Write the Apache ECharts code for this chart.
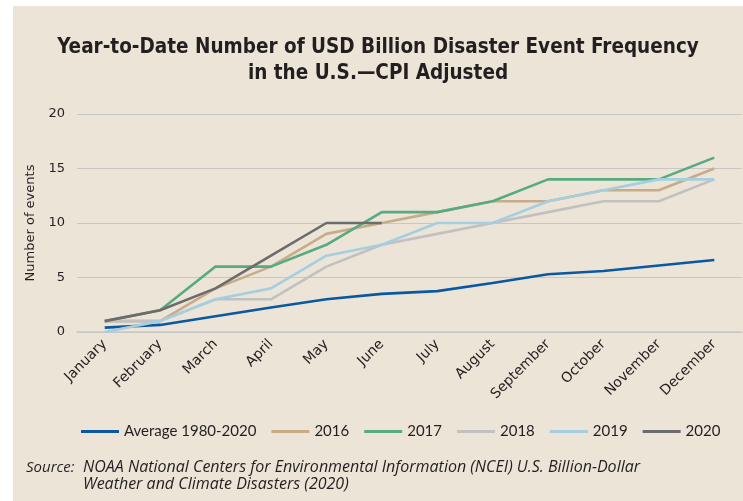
<!DOCTYPE html>
<html>
<head>
<meta charset="utf-8">
<script src="https://cdn.jsdelivr.net/npm/echarts@6/dist/echarts.min.js"></script>
<style>
   html, body { margin: 0; padding: 0; background: #ffffff; }
   #chart { position: absolute; left: 13px; top: 6px; width: 730px; height: 495px; background: #ebe4d7; }
</style>
</head>
<body>
<div id="chart"></div>
<script>
   // 月份
   var months = ['January', 'February', 'March', 'April', 'May', 'June', 'July', 'August', 'September', 'October', 'November', 'December'];
   // 各年累计次数
   var avg1980 = [0.4, 0.65, 1.45, 2.25, 3.0, 3.5, 3.75, 4.5, 5.3, 5.6, 6.1, 6.6];
   var y2016 = [1, 1, 4, 6, 9, 10, 11, 12, 12, 13, 13, 15];
   var y2017 = [1, 2, 6, 6, 8, 11, 11, 12, 14, 14, 14, 16];
   var y2018 = [1, 1, 3, 3, 6, 8, 9, 10, 11, 12, 12, 14];
   var y2019 = [0, 1, 3, 4, 7, 8, 10, 10, 12, 13, 14, 14];
   var y2020 = [1, 2, 4, 7, 10, 10];
   var yTicks = [0, 5, 10, 15, 20];

   var myChart = echarts.init(document.getElementById('chart'));

   function line(name, data, color){
      return {
         name: name,
         type: 'line',
         data: data,
         symbol: 'none',
         lineStyle: {color: color, width: 2.6},
         itemStyle: {color: color}
      };
   }

   var option = {
      animation: false,
      title: [
         {
            text: 'Year-to-Date Number of USD Billion Disaster Event Frequency\nin the U.S.\u2014CPI Adjusted',
            left: 'center',
            top: 24,
            textStyle: {
               fontFamily: 'DejaVu Sans Condensed',
               fontWeight: 'bold',
               fontSize: 20.5,
               lineHeight: 26,
               color: '#231f20'
            }
         },
         {
            text: 'Source:',
            left: 8,
            top: 449,
            textStyle: {fontFamily: 'Open Sans', fontStyle: 'italic', fontWeight: 'normal', fontSize: 15, color: '#231f20'}
         },
         {
            text: 'NOAA National Centers for Environmental Information (NCEI) U.S. Billion-Dollar\nWeather and Climate Disasters (2020)',
            left: 65,
            top: 448,
            textStyle: {fontFamily: 'Open Sans', fontStyle: 'italic', fontWeight: 'normal', fontSize: 16, lineHeight: 17, color: '#231f20'}
         }
      ],
      legend: {
         bottom: 57,
         left: 63,
         itemWidth: 38,
         itemHeight: 3,
         itemGap: 15,
         icon: 'rect',
         textStyle: {fontFamily: 'Lato', fontSize: 15, color: '#231f20'},
         data: ['Average 1980-2020', '2016', '2017', '2018', '2019', '2020']
      },
      grid: {
         left: 64,
         right: 1,
         top: 108,
         height: 218
      },
      xAxis: {
         type: 'category',
         boundaryGap: true,
         data: months,
         axisLine: {show: true, lineStyle: {color: '#c9c7c6', width: 1.5}},
         axisTick: {show: false},
         axisLabel: {
            rotate: 45,
            interval: 0,
            margin: 10,
            fontFamily: 'DejaVu Sans',
            fontSize: 14,
            color: '#231f20'
         }
      },
      yAxis: {
         type: 'value',
         min: yTicks[0],
         max: yTicks[yTicks.length - 1],
         interval: 5,
         name: 'Number of events',
         nameLocation: 'middle',
         nameGap: 36,
         nameTextStyle: {fontFamily: 'DejaVu Sans', fontSize: 13, color: '#231f20'},
         axisLine: {show: false},
         axisTick: {show: false},
         axisLabel: {margin: 12, fontFamily: 'DejaVu Sans', fontSize: 13, color: '#231f20'},
         splitLine: {lineStyle: {color: '#c9c7c6', width: 1.2}}
      },
      series: [
         line('Average 1980-2020', avg1980, '#0b58a2'),
         line('2016', y2016, '#c8ac89'),
         line('2017', y2017, '#58aa83'),
         line('2018', y2018, '#c2c0c1'),
         line('2019', y2019, '#a4cfe1'),
         line('2020', y2020, '#6c6c6d')
      ]
   };
   myChart.setOption(option);
</script>
</body>
</html>
